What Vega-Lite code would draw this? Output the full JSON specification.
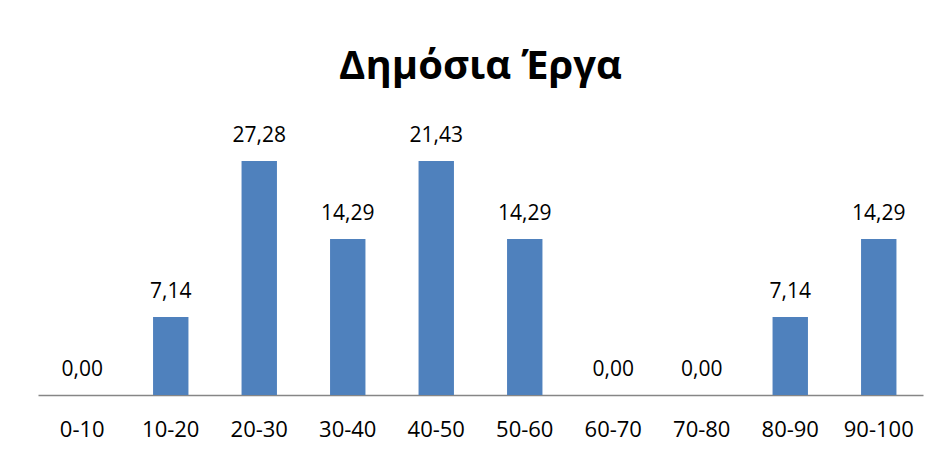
{
  "$schema": "https://vega.github.io/schema/vega-lite/v6.json",
  "autosize": {"type": "none"},
  "padding": {"left": 38, "top": 122, "right": 19, "bottom": 61},
  "width": 885,
  "height": 273,
  "background": "white",
  "title": {
    "text": "Δημόσια Έργα",
    "font": "Open Sans",
    "fontSize": 40,
    "fontWeight": "bold",
    "color": "#000000",
    "anchor": "middle",
    "baseline": "alphabetic",
    "offset": 3
  },
  "data": {
    "values": [
      {"range": "0-10", "value": 0, "label": "0,00"},
      {"range": "10-20", "value": 7.14, "label": "7,14"},
      {"range": "20-30", "value": 21.43, "label": "27,28"},
      {"range": "30-40", "value": 14.29, "label": "14,29"},
      {"range": "40-50", "value": 21.43, "label": "21,43"},
      {"range": "50-60", "value": 14.29, "label": "14,29"},
      {"range": "60-70", "value": 0, "label": "0,00"},
      {"range": "70-80", "value": 0, "label": "0,00"},
      {"range": "80-90", "value": 7.14, "label": "7,14"},
      {"range": "90-100", "value": 14.29, "label": "14,29"}
    ]
  },
  "encoding": {
    "x": {
      "field": "range",
      "type": "nominal",
      "sort": null,
      "scale": {"paddingInner": 0.6, "paddingOuter": 0.3},
      "axis": {
        "title": null,
        "labelAngle": 0,
        "labelFont": "Open Sans",
        "labelFontSize": 22,
        "labelColor": "#000000",
        "labelPadding": 24,
        "ticks": false,
        "domainColor": "#868686",
        "domainWidth": 1.5
      }
    },
    "y": {
      "field": "value",
      "type": "quantitative",
      "scale": {"domain": [0, 25], "nice": false},
      "axis": null
    }
  },
  "layer": [
    {"mark": {"type": "bar", "color": "#4F81BD"}},
    {
      "mark": {
        "type": "text",
        "font": "Open Sans",
        "fontSize": 21,
        "color": "#000000",
        "baseline": "alphabetic",
        "dy": -19
      },
      "encoding": {"text": {"field": "label"}}
    }
  ],
  "config": {"view": {"stroke": null}}
}
